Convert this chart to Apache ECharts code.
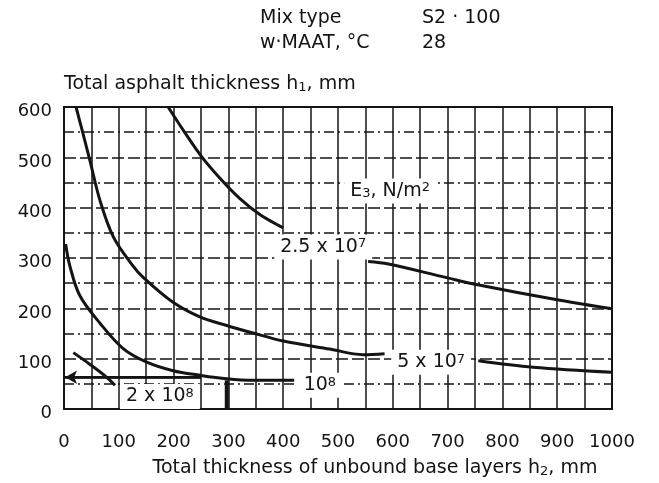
<!DOCTYPE html>
<html>
<head>
<meta charset="utf-8">
<script src="https://cdn.jsdelivr.net/npm/echarts@6/dist/echarts.min.js"></script>
<style>
  html, body { margin: 0; padding: 0; background: #fff; }
  #main { width: 659px; height: 483px; }
</style>
</head>
<body>
<div id="main"></div>
<script>
// h2 (mm) vs h1 (mm)
var curve25e7Left = [[190, 600], [220, 550], [250, 503], [285, 458], [321, 418], [358, 386], [400, 360]];
var curve25e7Right = [[555, 293], [592, 288], [698, 261], [750, 248], [905, 216], [1000, 199]];
var curve5e7Left = [[22, 600], [34, 550], [47, 495], [66, 413], [90, 342], [124, 287], [145, 261], [199, 212], [248, 183], [297, 166], [345, 151], [400, 135], [485, 119], [546, 108], [585, 110]];
var curve5e7Right = [[756, 96], [856, 83], [1000, 73]];
var curve1e8 = [[3, 328], [11, 283], [29, 225], [66, 170], [108, 120], [151, 93], [199, 76], [248, 67], [297, 60], [345, 57], [420, 57]];
var curve2e8 = [[17, 112], [47, 89], [78, 63], [93, 47]];
var arrowLine = [[2, 63], [250, 63]];
var markBar = [[297, 0], [297, 57]];

var xTicks = [0, 100, 200, 300, 400, 500, 600, 700, 800, 900, 1000];
var yTicks = [0, 100, 200, 300, 400, 500, 600];

// curve captions: [x, y, text]
var captions = [
    [595, 433, 'E{sub|3}, N/m{sup|2}'],
    [473, 322, '2.5 x 10{sup|7}'],
    [670, 93, '5 x 10{sup|7}'],
    [467, 47, '10{sup|8}'],
    [175, 25, '2 x 10{sup|8}']
];

var ink = '#141414';
var font = 'DejaVu Sans';
var rich = {
    sub: { fontSize: 13, fontFamily: font, color: ink, verticalAlign: 'bottom', lineHeight: 13, padding: [9, 0, 0, 0] },
    sup: { fontSize: 13, fontFamily: font, color: ink, verticalAlign: 'top', lineHeight: 13, padding: [0, 0, 13, 0] }
};

function curve(data, width) {
    return {
        type: 'line',
        data: data,
        smooth: 0.35,
        symbol: 'none',
        silent: true,
        lineStyle: { color: ink, width: width || 3 }
    };
}

var dom = document.getElementById('main');
var chart = echarts.init(dom);

var option = {
    backgroundColor: '#fff',
    animation: false,
    grid: {
        left: 64,
        right: 47,
        top: 107,
        bottom: 67,
        show: true,
        borderColor: ink,
        borderWidth: 2
    },
    graphic: [
        { type: 'text', left: 260, top: 9, style: { text: 'Mix type', font: '19px "DejaVu Sans"', fill: ink } },
        { type: 'text', left: 422, top: 9, style: { text: 'S2 · 100', font: '19px "DejaVu Sans"', fill: ink } },
        { type: 'text', left: 260, top: 34, style: { text: 'w·MAAT, °C', font: '19px "DejaVu Sans"', fill: ink } },
        { type: 'text', left: 422, top: 34, style: { text: '28', font: '19px "DejaVu Sans"', fill: ink } }
    ],
    xAxis: {
        type: 'value',
        min: 0,
        max: 1000,
        interval: 100,
        name: 'Total thickness of unbound base layers h{sub|2}, mm',
        nameLocation: 'middle',
        nameGap: 50,
        nameTextStyle: { fontFamily: font, fontSize: 19, color: ink, padding: [0, 0, 0, 74], rich: rich },
        axisLine: { show: false },
        axisTick: { show: false },
        axisLabel: {
            margin: 24,
            fontFamily: font,
            fontSize: 18,
            color: ink,
            formatter: function(v) { return xTicks.indexOf(v) >= 0 ? String(v) : ''; }
        },
        splitLine: { show: true, lineStyle: { color: ink, width: 1.5 } },
        minorTick: { show: false, splitNumber: 2 },
        minorSplitLine: { show: true, lineStyle: { color: ink, width: 1.5 } }
    },
    yAxis: {
        type: 'value',
        min: 0,
        max: 600,
        interval: 100,
        name: 'Total asphalt thickness h{sub|1}, mm',
        nameLocation: 'end',
        nameGap: 13,
        nameTextStyle: { fontFamily: font, fontSize: 19, color: ink, align: 'left', rich: rich },
        axisLine: { show: false },
        axisTick: { show: false },
        axisLabel: {
            margin: 12,
            color: ink,
            rich: {
                v: { fontFamily: font, fontSize: 18, color: ink, padding: [9, 0, 0, 0] }
            },
            formatter: function(v) { return yTicks.indexOf(v) >= 0 ? '{v|' + v + '}' : ''; }
        },
        splitLine: { show: true, lineStyle: { color: ink, width: 1.5, type: [12, 4] } },
        minorTick: { show: false, splitNumber: 2 },
        minorSplitLine: { show: true, lineStyle: { color: ink, width: 1.5, type: [10, 4, 2, 4] } }
    },
    series: [
        curve(curve25e7Left),
        curve(curve25e7Right),
        curve(curve5e7Left),
        curve(curve5e7Right),
        curve(curve1e8),
        curve(curve2e8),
        {
            type: 'line',
            data: arrowLine,
            symbol: 'none',
            silent: true,
            lineStyle: { color: ink, width: 2.5 },
            markLine: {
                silent: true,
                symbol: ['arrow', 'none'],
                symbolSize: [10, 12],
                label: { show: false },
                lineStyle: { color: ink, width: 2.5, type: 'solid' },
                data: [[{ coord: arrowLine[0] }, { coord: arrowLine[1] }]]
            }
        },
        curve(markBar, 4),
        {
            type: 'scatter',
            data: captions,
            symbolSize: 0,
            silent: true,
            z: 10,
            itemStyle: { opacity: 1 },
            label: {
                show: true,
                position: 'inside',
                fontFamily: font,
                fontSize: 19,
                color: ink,
                backgroundColor: '#fff',
                padding: [3, 6],
                rich: rich,
                formatter: function(p) { return p.data[2]; }
            }
        }
    ]
};

chart.setOption(option);
</script>
</body>
</html>
